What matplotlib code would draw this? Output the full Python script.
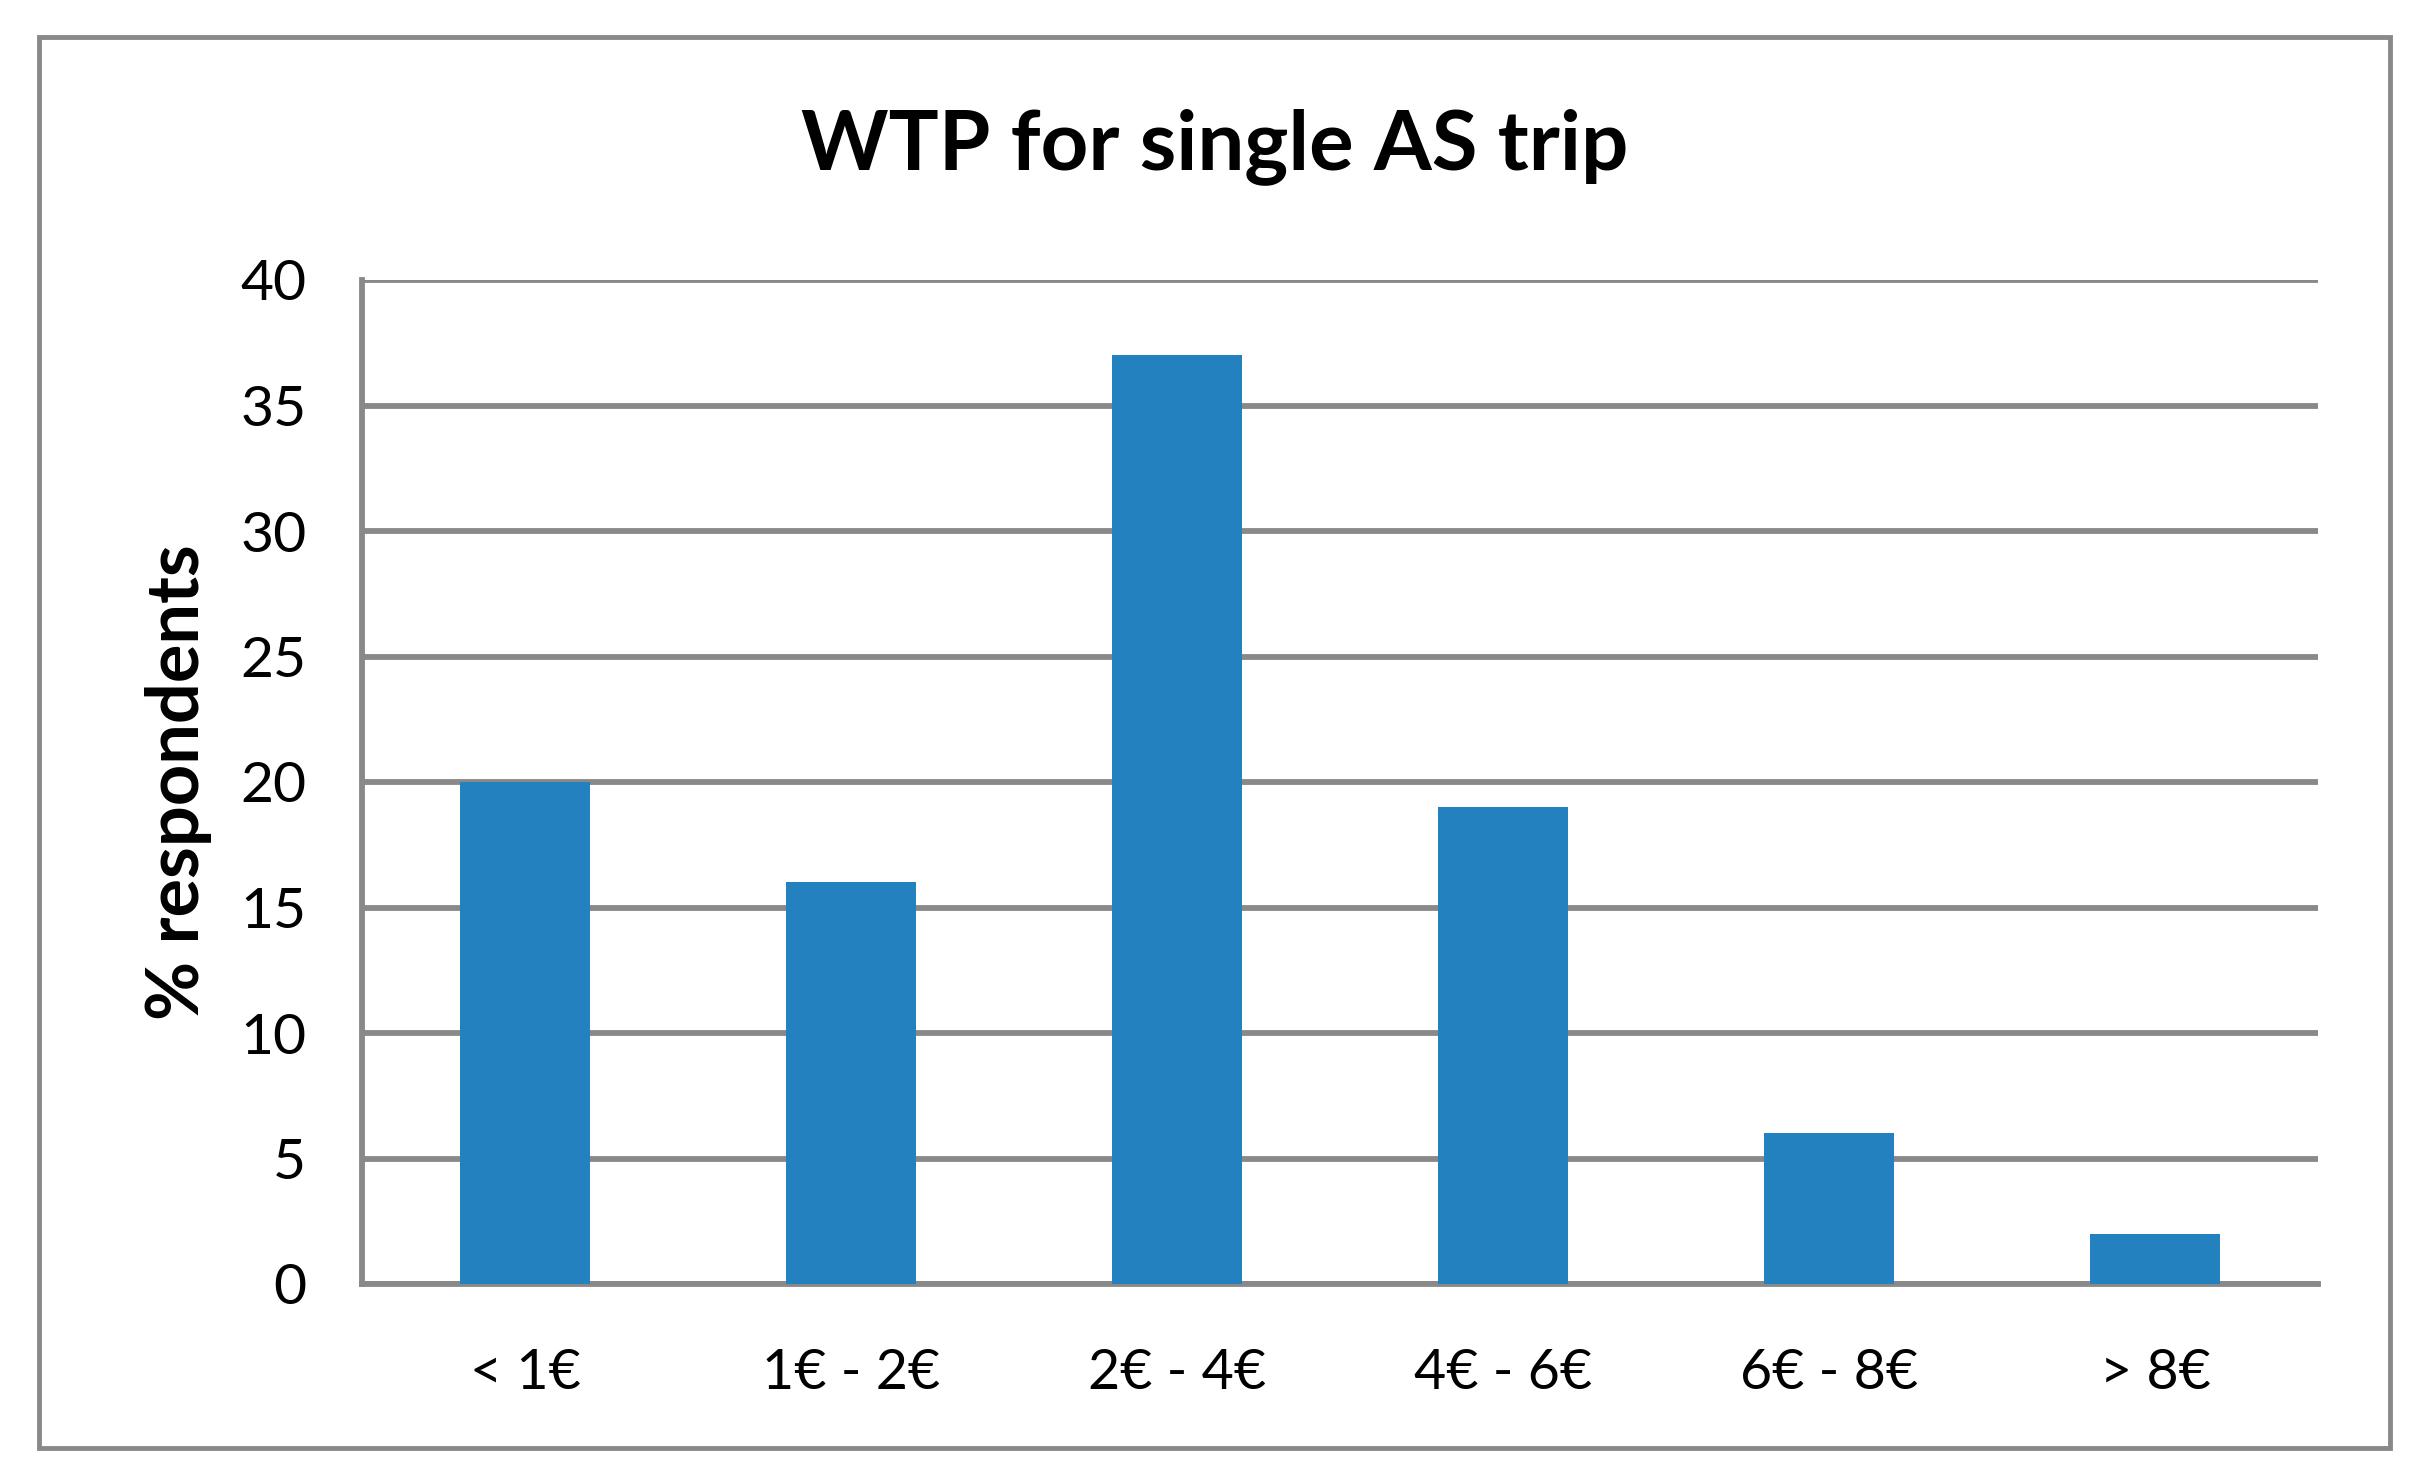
import matplotlib.pyplot as plt
from matplotlib.patches import Rectangle

categories = ["< 1€", "1€ - 2€", "2€ - 4€", "4€ - 6€", "6€ - 8€", "> 8€"]
values = [20, 16, 37, 19, 6, 2]
yticks = [0, 5, 10, 15, 20, 25, 30, 35, 40]

plt.rcParams['font.family'] = ['Lato', 'DejaVu Sans']

fig = plt.figure(figsize=(24.28, 14.84), dpi=100)
ax = fig.add_axes([362 / 2428, 1 - 1284 / 1484, (2318 - 362) / 2428, (1284 - 280) / 1484])

grey = "#898989"
ax.bar(range(len(categories)), values, width=0.4, color="#2481c0", zorder=3)
ax.set_xlim(-0.5, len(categories) - 0.5)
ax.set_ylim(0, 40)
ax.set_yticks(yticks)
ax.set_xticks(range(len(categories)))
ax.set_xticklabels(categories, fontsize=40)
ax.tick_params(axis='y', labelsize=41, length=0, pad=40)
ax.tick_params(axis='x', length=0, pad=46)
ax.grid(axis='y', color=grey, linewidth=4.2, zorder=0)
for s in ['top', 'right']:
    ax.spines[s].set_visible(False)
for s in ['left', 'bottom']:
    ax.spines[s].set_color(grey)
    ax.spines[s].set_linewidth(4.2)

ax.set_ylabel("% respondents", fontsize=52, fontweight='bold', labelpad=20)
fig.text(1215 / 2428, 1 - 147 / 1484, "WTP for single AS trip", fontsize=60,
         fontweight='bold', ha='center', va='center')

fig.patches.append(Rectangle((39 / 2428, 1 - 1448 / 1484), (2390 - 39) / 2428, (1448 - 37) / 1484,
                             transform=fig.transFigure, fill=False, edgecolor=grey, linewidth=3.5))

fig.savefig("out.png", dpi=100)
